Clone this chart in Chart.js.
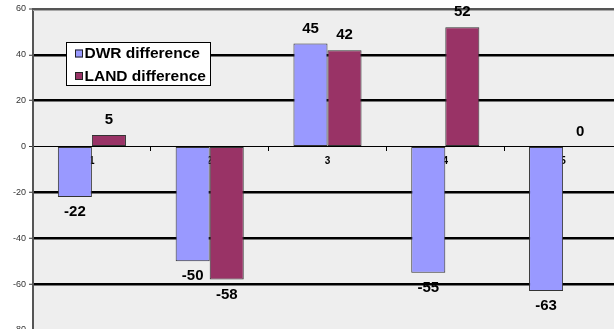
<!DOCTYPE html>
<html>
<head>
<meta charset="utf-8">
<script src="https://cdn.jsdelivr.net/npm/chart.js@4/dist/chart.umd.min.js"></script>
<style>
  html, body { margin: 0; padding: 0; background: #ffffff; overflow: hidden; }
  #wrap { width: 614px; height: 329px; overflow: hidden; }
  canvas { display: block; }
</style>
</head>
<body>
<div id="wrap"><canvas id="chart" width="625" height="345" style="width:625px;height:345px"></canvas></div>
<script>
// Category labels and the two difference series
const categories = ['1', '2', '3', '4', '5'];
const dwrDifference = [-22, -50, 45, -55, -63];
const landDifference = [5, -58, 42, 52, 0];
const seriesNames = ['DWR difference', 'LAND difference'];
const yTickMin = -80;
const yTickMax = 60;
const yTickStep = 20;

const FONT = '"Liberation Sans", Arial, sans-serif';

// Plot background, frame and gridline styling
const plotFrame = {
  id: 'plotFrame',
  beforeDraw(chart) {
    const { ctx, chartArea: a } = chart;
    ctx.save();
    ctx.fillStyle = '#ffffff';
    ctx.fillRect(0, 0, chart.width, chart.height);
    ctx.fillStyle = '#eeeeee';
    ctx.fillRect(a.left, a.top, a.right - a.left, a.bottom - a.top);
    ctx.restore();
  },
  beforeDatasetsDraw(chart) {
    const { ctx, chartArea: a } = chart;
    ctx.save();
    ctx.fillStyle = '#555555';
    ctx.fillRect(a.left, a.top - 1, a.right - a.left, 2);
    ctx.fillStyle = '#a8a8a8';
    ctx.fillRect(a.left, a.top + 1, a.right - a.left, 1);
    ctx.restore();
  }
};

// Value labels above positive bars and below negative ones
const valueLabels = {
  id: 'valueLabels',
  afterDatasetsDraw(chart) {
    const { ctx } = chart;
    ctx.save();
    ctx.font = 'bold 15px ' + FONT;
    ctx.fillStyle = '#000000';
    ctx.textAlign = 'center';
    ctx.textBaseline = 'middle';
    chart.data.datasets.forEach((ds, i) => {
      const meta = chart.getDatasetMeta(i);
      meta.data.forEach((bar, j) => {
        const v = ds.data[j];
        const y = v >= 0 ? bar.y - 15 : bar.y + 15;
        ctx.fillText(String(v), bar.x, y);
      });
    });
    ctx.restore();
  }
};

// Boxed legend inside the plot area
const boxedLegend = {
  id: 'boxedLegend',
  afterDraw(chart) {
    const { ctx, chartArea: a } = chart;
    const x = a.left + 33, y = a.top + 33, w = 145, h = 44;
    ctx.save();
    ctx.fillStyle = '#ffffff';
    ctx.fillRect(x, y, w, h);
    ctx.strokeStyle = '#000000';
    ctx.lineWidth = 1;
    ctx.strokeRect(x + 0.5, y + 0.5, w - 1, h - 1);
    ctx.font = 'bold 15.5px ' + FONT;
    ctx.textBaseline = 'middle';
    ctx.textAlign = 'left';
    chart.data.datasets.forEach((ds, i) => {
      const cy = y + 11.5 + i * 22.5;
      ctx.fillStyle = ds.backgroundColor;
      ctx.fillRect(x + 9, cy - 4, 8, 8);
      ctx.strokeStyle = '#222222';
      ctx.strokeRect(x + 9.5, cy - 3.5, 7, 7);
      ctx.fillStyle = '#000000';
      ctx.fillText(ds.label, x + 18.5, cy + 0.5);
    });
    ctx.restore();
  }
};

new Chart(document.getElementById('chart'), {
  type: 'bar',
  data: {
    labels: categories,
    datasets: [
      {
        label: seriesNames[0],
        data: dwrDifference,
        backgroundColor: '#9999ff',
        borderColor: '#333333',
        borderWidth: 1,
        borderSkipped: false
      },
      {
        label: seriesNames[1],
        data: landDifference,
        backgroundColor: '#993366',
        borderColor: '#333333',
        borderWidth: 1,
        borderSkipped: false
      }
    ]
  },
  options: {
    responsive: false,
    devicePixelRatio: 1,
    animation: false,
    events: [],
    layout: { padding: { top: 9, bottom: 15, left: 0, right: 3 } },
    datasets: {
      bar: { categoryPercentage: 0.578, barPercentage: 1.0 }
    },
    plugins: {
      legend: { display: false },
      title: { display: false },
      tooltip: { enabled: false }
    },
    scales: {
      x: {
        position: { y: 0 },
        z: 1,
        offset: true,
        grid: {
          display: true,
          offset: true,
          drawOnChartArea: false,
          drawTicks: true,
          tickLength: 4,
          tickColor: '#000000',
          tickWidth: 1
        },
        border: { display: true, color: '#000000', width: 1 },
        ticks: {
          padding: 5,
          color: '#000000',
          font: { family: FONT, size: 10, weight: 'bold' }
        }
      },
      y: {
        min: yTickMin,
        max: yTickMax,
        afterFit(scale) { scale.width = 33; },
        grid: {
          color: '#000000',
          lineWidth(ctx) {
            const v = ctx.tick && ctx.tick.value;
            if (v === yTickMax || v === yTickMin) return 0;
            if (v === 0) return 1;
            return 2.5;
          },
          drawTicks: true,
          tickLength: 4,
          tickColor: '#333333',
          tickWidth: 1
        },
        border: { display: true, color: '#555555', width: 2 },
        ticks: {
          stepSize: yTickStep,
          padding: 3,
          color: '#333333',
          font: { family: FONT, size: 9 }
        }
      }
    }
  },
  plugins: [plotFrame, valueLabels, boxedLegend]
});
</script>
</body>
</html>
